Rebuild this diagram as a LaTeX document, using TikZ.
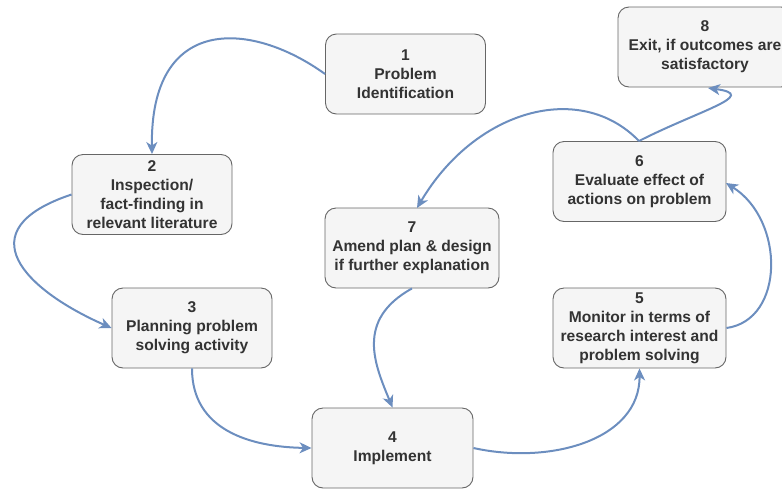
\documentclass[tikz,border=0pt]{standalone}
\usepackage{fontspec}
\setmainfont{Liberation Sans}
\usetikzlibrary{arrows.meta}
\definecolor{boxfill}{HTML}{F5F5F5}
\definecolor{boxline}{HTML}{666666}
\definecolor{boxtext}{HTML}{333333}
\definecolor{arrowblue}{HTML}{6C8EBF}
\tikzset{
  stepbox/.style={draw=boxline, fill=boxfill, line width=0.9pt, rounded corners=11pt,
    text=boxtext, align=center, inner sep=0pt,
    font=\fontsize{15.6}{19}\selectfont\bfseries},
  flow/.style={draw=arrowblue, line width=2pt,
    -{Stealth[length=12pt, width=11pt, inset=3.5pt]}}
}
\begin{document}
\begin{tikzpicture}[x=1pt, y=-1pt]
\useasboundingbox (0,0) rectangle (782,488);
\node[stepbox, minimum width=160pt, minimum height=80pt] (n1) at (405.5,74) {1\\Problem\\Identification};
\node[stepbox, minimum width=160pt, minimum height=80pt] (n2) at (152,194.5) {2\\Inspection/\\fact-finding in\\relevant literature};
\node[stepbox, minimum width=160pt, minimum height=80pt] (n3) at (192,328) {3\\Planning problem\\solving activity};
\node[stepbox, minimum width=161pt, minimum height=80pt] (n4) at (392.5,448) {4\\Implement};
\node[stepbox, minimum width=173pt, minimum height=80pt] (n5) at (639.5,328) {5\\Monitor in terms of\\research interest and\\problem solving};
\node[stepbox, minimum width=173pt, minimum height=80pt] (n6) at (639.5,181.5) {6\\Evaluate effect of\\actions on problem};
\node[stepbox, minimum width=174pt, minimum height=80pt] (n7) at (412,248) {7\\Amend plan \& design\\if further explanation};
\node[stepbox, minimum width=174pt, minimum height=80pt] (n8) at (705,47) {8\\Exit, if outcomes are\\satisfactory};
\coordinate (n8in) at (708,88);
\coordinate (n7in) at (417,208);
\coordinate (n6in) at (726,183);
\coordinate (n6top) at (639,141);

\draw[flow] (n1.west) .. controls (250,20) and (150,15) .. (n2.north);
\draw[flow] (n2.west) .. controls (-35,230) and (25,290) .. (n3.west);
\draw[flow] (n3.south) .. controls (192,430) and (250,447) .. (n4.west);
\draw[flow] (n4.east) .. controls (550,465) and (640,440) .. (n5.south);
\draw[flow] (n5.east) .. controls (785,320) and (785,220) .. (n6in);
\draw[flow] (n6top) .. controls (580,80) and (475,110) .. (n7in);
\draw[flow] (n6top) .. controls (700,110) and (760,95) .. (n8in);
\draw[flow] (n7.south) .. controls (355,320) and (375,365) .. (n4.north);
\end{tikzpicture}
\end{document}
